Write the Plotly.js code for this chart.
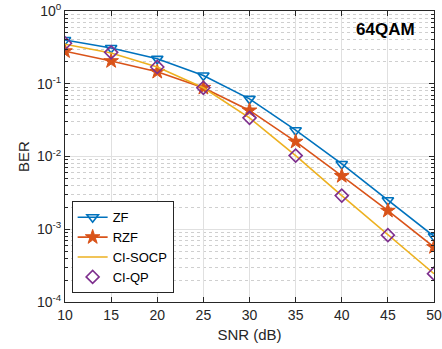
<!DOCTYPE html>
<html>
<head>
<meta charset="utf-8">
<script src="https://cdn.plot.ly/plotly-3.0.1.min.js"></script>
<style>html,body{margin:0;padding:0;background:#fff;}#chart{width:442px;height:349px;}</style>
</head>
<body>
<div id="chart"></div>
<script>
const snr = [10, 15, 20, 25, 30, 35, 40, 45, 50];
const berZF = [0.40, 0.31, 0.22, 0.13, 0.062, 0.023, 0.0079, 0.0025, 0.0008];
const berRZF = [0.28, 0.205, 0.146, 0.088, 0.043, 0.016, 0.0054, 0.0018, 0.00057];
const berSOCP = [0.35, 0.265, 0.17, 0.088, 0.034, 0.0103, 0.0029, 0.00083, 0.000245];
const berQP = [0.36, 0.27, 0.17, 0.088, 0.034, 0.0103, 0.0029, 0.00083, 0.000245];
const yTickVals = [1e-4, 1e-3, 1e-2, 1e-1, 1];
const yTickText = ['10<sup>-4</sup>', '10<sup>-3</sup>', '10<sup>-2</sup>', '10<sup>-1</sup>', '10<sup>0</sup>'];
const xTickVals = [10, 15, 20, 25, 30, 35, 40, 45, 50];

const yMinorVals = [];
for (let e = -4; e < 0; e++) {
  for (let m = 2; m <= 9; m++) yMinorVals.push(m * Math.pow(10, e));
}

const traces = [
  {x: snr, y: berZF, name: 'ZF', mode: 'lines+markers',
   line: {color: '#0072BD', width: 1.6},
   marker: {symbol: 'triangle-down-open', size: 10, color: '#0072BD', line: {width: 1.6}}},
  {x: snr, y: berRZF, name: 'RZF', mode: 'lines+markers',
   line: {color: '#D95319', width: 1.6},
   marker: {symbol: 'star', size: 11, color: '#D95319', line: {width: 1, color: '#D95319'}}},
  {x: snr, y: berSOCP, name: 'CI-SOCP', mode: 'lines',
   line: {color: '#EDB120', width: 1.6}},
  {x: snr, y: berQP, name: 'CI-QP', mode: 'markers',
   marker: {symbol: 'diamond-open', size: 10, color: '#7E2F8E', line: {width: 1.6}}}
];

const layout = {
  width: 442, height: 349,
  margin: {l: 64.5, r: 7.5, t: 11, b: 47},
  paper_bgcolor: '#fff', plot_bgcolor: '#fff',
  font: {family: 'Liberation Sans, Arial, sans-serif', size: 14, color: '#262626'},
  showlegend: true,
  legend: {x: 0.018, y: 0.03, xanchor: 'left', yanchor: 'bottom',
    bgcolor: '#fff', bordercolor: '#262626', borderwidth: 1,
    font: {size: 13, color: '#000'}, tracegroupgap: 0, itemwidth: 30},
  xaxis: {
    range: [10, 50], tickmode: 'array', tickvals: xTickVals, ticks: 'inside', ticklen: 5,
    tickcolor: '#262626', linecolor: '#262626', linewidth: 1, mirror: 'ticks',
    showline: true, showgrid: true, gridcolor: '#e0e0e0', zeroline: false,
    title: {text: 'SNR (dB)', font: {size: 15, color: '#262626'}, standoff: 7},
    tickfont: {size: 14, color: '#262626'}
  },
  yaxis: {
    type: 'log', range: [-4, 0], tickmode: 'array', tickvals: yTickVals, ticktext: yTickText,
    ticks: 'inside', ticklen: 5, tickcolor: '#262626',
    linecolor: '#262626', linewidth: 1, mirror: 'ticks', showline: true,
    showgrid: true, gridcolor: '#e0e0e0', zeroline: false,
    minor: {tickmode: 'array', tickvals: yMinorVals, ticks: 'inside', ticklen: 3,
      tickcolor: '#262626', showgrid: true, gridcolor: '#cfcfcf', griddash: 'dot', gridwidth: 1},
    title: {text: 'BER', font: {size: 15, color: '#262626'}, standoff: 3},
    tickfont: {size: 14, color: '#262626'}
  },
  annotations: [{
    xref: 'paper', yref: 'paper', x: 0.955, y: 0.935, xanchor: 'right', yanchor: 'middle',
    text: '<b>64QAM</b>', showarrow: false,
    font: {size: 17, color: '#000', family: 'Liberation Sans, Arial, sans-serif'}
  }]
};

Plotly.newPlot('chart', traces, layout, {displayModeBar: false, staticPlot: true});
</script>
</body>
</html>
